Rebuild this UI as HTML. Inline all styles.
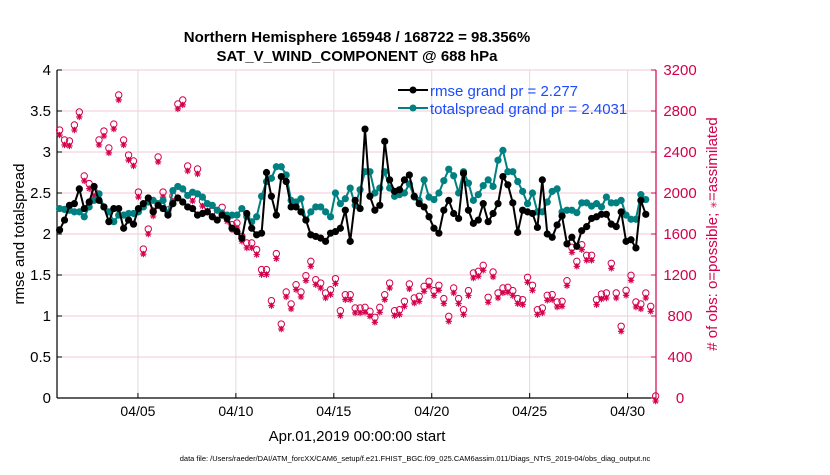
<!DOCTYPE html>
<html><head><meta charset="utf-8"><style>
body{margin:0;background:#fff;width:830px;height:470px;overflow:hidden}
svg text{font-family:"Liberation Sans",Arial,sans-serif}
</style></head><body>
<svg id="chart" width="830" height="470" xmlns="http://www.w3.org/2000/svg">
<g id="grid"></g><g id="axes"></g><g id="series"></g>
<text x="357" y="42" text-anchor="middle" font-size="15" font-weight="bold">Northern Hemisphere 165948 / 168722 = 98.356%</text>
<text x="357" y="61" text-anchor="middle" font-size="15" font-weight="bold">SAT_V_WIND_COMPONENT @ 688 hPa</text>
<text transform="translate(24,234) rotate(-90)" text-anchor="middle" font-size="15">rmse and totalspread</text>
<text transform="translate(717,234) rotate(-90)" text-anchor="middle" font-size="15" fill="#d4004c"># of obs: o=possible; <tspan font-size="9">✳</tspan>=assimilated</text>
<text x="357" y="441" text-anchor="middle" font-size="15">Apr.01,2019 00:00:00 start</text>
<text x="415" y="461" text-anchor="middle" font-size="7.5">data file: /Users/raeder/DAI/ATM_forcXX/CAM6_setup/f.e21.FHIST_BGC.f09_025.CAM6assim.011/Diags_NTrS_2019-04/obs_diag_output.nc</text>
<g>
<line x1="398" y1="90" x2="428" y2="90" stroke="#000" stroke-width="2"/><circle cx="413" cy="90" r="3.5" fill="#000"/>
<text x="430" y="96" font-size="15" fill="#1a4cff">rmse grand pr = 2.277</text>
<line x1="398" y1="108" x2="428" y2="108" stroke="#008080" stroke-width="2"/><circle cx="413" cy="108" r="3.5" fill="#008080"/>
<text x="430" y="114" font-size="15" fill="#1a4cff">totalspread grand pr = 2.4031</text>
</g>
</svg>
<script>
const leftTicks=[0,0.5,1,1.5,2,2.5,3,3.5,4];
const rightTicks=[0,400,800,1200,1600,2000,2400,2800,3200];
const dateTicks=[5,10,15,20,25,30];
const dateLabels=["04/05","04/10","04/15","04/20","04/25","04/30"];
const rmse=[2.05,2.17,2.35,2.37,2.55,2.31,2.39,2.58,2.41,2.33,2.15,2.31,2.31,2.07,2.17,2.12,2.31,2.37,2.44,2.27,2.35,2.31,2.23,2.37,2.44,2.39,2.33,2.31,2.23,2.25,2.27,
2.21,2.17,2.23,2.19,2.07,2.03,1.95,2.25,2.07,1.99,2.01,2.75,2.46,2.23,2.70,2.64,2.33,2.33,2.27,2.17,1.99,1.97,1.95,1.91,2.01,2.03,2.07,2.29,1.91,2.41,
2.31,3.28,2.46,2.29,2.35,3.13,2.66,2.52,2.54,2.66,2.72,2.46,2.37,2.33,2.21,2.07,2.01,2.29,2.41,2.25,2.19,2.74,2.29,2.13,2.17,2.37,2.15,2.25,2.37,2.70,
2.60,2.38,2.02,2.29,2.27,2.25,2.08,2.66,2.00,1.96,2.11,2.22,1.88,1.96,1.85,2.04,2.09,2.19,2.21,2.24,2.24,2.12,2.09,2.27,1.91,1.93,1.83,2.41,2.24];
const spread=[2.31,2.30,2.29,2.27,2.27,2.21,2.33,2.41,2.49,2.33,2.27,2.15,2.23,2.23,2.25,2.25,2.27,2.33,2.39,2.41,2.37,2.41,2.25,2.53,2.58,2.55,2.47,2.51,2.49,2.45,2.37,
2.35,2.29,2.25,2.23,2.23,2.23,2.31,2.21,2.15,2.21,2.46,2.64,2.68,2.82,2.82,2.72,2.41,2.39,2.43,2.17,2.27,2.33,2.33,2.27,2.21,2.50,2.37,2.43,2.56,2.35,
2.54,2.76,2.76,2.50,2.56,2.76,2.56,2.46,2.48,2.50,2.61,2.45,2.41,2.66,2.45,2.42,2.50,2.65,2.79,2.71,2.50,2.76,2.62,2.41,2.48,2.59,2.66,2.58,2.90,3.02,
2.76,2.76,2.64,2.52,2.37,2.50,2.27,2.27,2.39,2.52,2.55,2.27,2.29,2.29,2.26,2.38,2.38,2.34,2.37,2.33,2.45,2.38,2.38,2.41,2.23,2.18,2.18,2.48,2.42];
const nobs=[2595,2498,2488,2644,2771,2147,2072,2000,2498,2585,2420,2653,2937,2498,2351,2293,1990,1434,1629,1805,2332,1990,1815,1951,2849,2888,2244,1951,2215,1902,1854,
1802,1769,1841,1753,1671,1688,1558,1493,1493,1428,1233,1233,930,1389,702,1015,898,1086,1015,1174,1314,1135,1102,1005,1037,1145,832,988,988,859,
859,865,826,768,865,988,1102,832,842,924,1093,956,972,1070,1119,1028,1080,950,777,1054,950,842,1028,1200,1216,1275,963,1210,1005,1054,
1060,1028,950,940,1158,1080,842,859,982,989,917,924,1125,1450,1314,1476,1373,1373,940,995,1005,1295,1005,680,1031,1177,917,898,1005,875,0];
const X0=57,X1=656,Y0=398,Y1=70,D0=0.867,D1=31.45;
function xs(d){return X0+(d-D0)/(D1-D0)*(X1-X0);}
function yl(v){return Y0-v/4*(Y0-Y1);}
function yr(v){return Y0-v/3200*(Y0-Y1);}
function dayOf(i){return 1+i*0.2515;}
const NS="http://www.w3.org/2000/svg";
function mk(tag,attrs,parent){const e=document.createElementNS(NS,tag);for(const k in attrs)e.setAttribute(k,attrs[k]);parent.appendChild(e);return e;}
const grid=document.getElementById('grid'),axes=document.getElementById('axes'),ser=document.getElementById('series');
rightTicks.forEach(t=>{if(t===0)return;const l=mk('line',{x1:X0,x2:X1,y1:yr(t),y2:yr(t),stroke:'#f4c8d8','stroke-width':1},grid);

});
dateTicks.forEach((d,k)=>{const l=mk('line',{x1:xs(d),x2:xs(d),y1:Y1,y2:Y0,stroke:'#dcdcdc','stroke-width':1},grid);


mk('line',{x1:xs(d),x2:xs(d),y1:Y0,y2:Y0-5,stroke:'#000'},axes);
const t=mk('text',{x:xs(d),y:Y0+18,'text-anchor':'middle','font-size':14},axes);t.textContent=dateLabels[k];

});
mk('line',{x1:X0,x2:X0,y1:Y1,y2:Y0,stroke:'#000','stroke-width':1.2},axes);
mk('line',{x1:X0,x2:X1,y1:Y0,y2:Y0,stroke:'#000','stroke-width':1.2},axes);
mk('line',{x1:X1,x2:X1,y1:Y1,y2:Y0,stroke:'#d4004c','stroke-width':1.2},axes);
leftTicks.forEach(t=>{mk('line',{x1:X0,x2:X0+5,y1:yl(t),y2:yl(t),stroke:'#000'},axes);
const e=mk('text',{x:X0-6,y:yl(t)+5,'text-anchor':'end','font-size':15},axes);e.textContent=String(t);

});
rightTicks.forEach(t=>{mk('line',{x1:X1-5,x2:X1,y1:yr(t),y2:yr(t),stroke:'#d4004c'},axes);
const e=mk('text',{x:X1+24,y:yr(t)+5,'text-anchor':'middle','font-size':15,fill:'#d4004c'},axes);e.textContent=String(t);

});
nobs.forEach((v,i)=>{const g=mk('g',{},ser);


const x=xs(dayOf(i)),y=yr(v);
mk('circle',{cx:x,cy:y-2,r:3.2,fill:'none',stroke:'#d4004c','stroke-width':1},g);
const a=y+3;mk('path',{d:`M${x-3.2} ${a}h6.4M${x} ${a-3.2}v6.4M${x-2.3} ${a-2.3}l4.6 4.6M${x+2.3} ${a-2.3}l-4.6 4.6`,stroke:'#d4004c','stroke-width':1.1},g);});
function series(arr,color,name){
const p=arr.map((v,i)=>`${xs(dayOf(i)).toFixed(1)},${yl(v).toFixed(1)}`).join(' ');
const pl=mk('polyline',{points:p,fill:'none',stroke:color,'stroke-width':2},ser);


arr.forEach((v,i)=>{const c=mk('circle',{cx:xs(dayOf(i)),cy:yl(v),r:3.6,fill:color},ser);

});}
series(spread,'#008080','totalspread');
series(rmse,'#000000','rmse');
</script>
</body></html>
